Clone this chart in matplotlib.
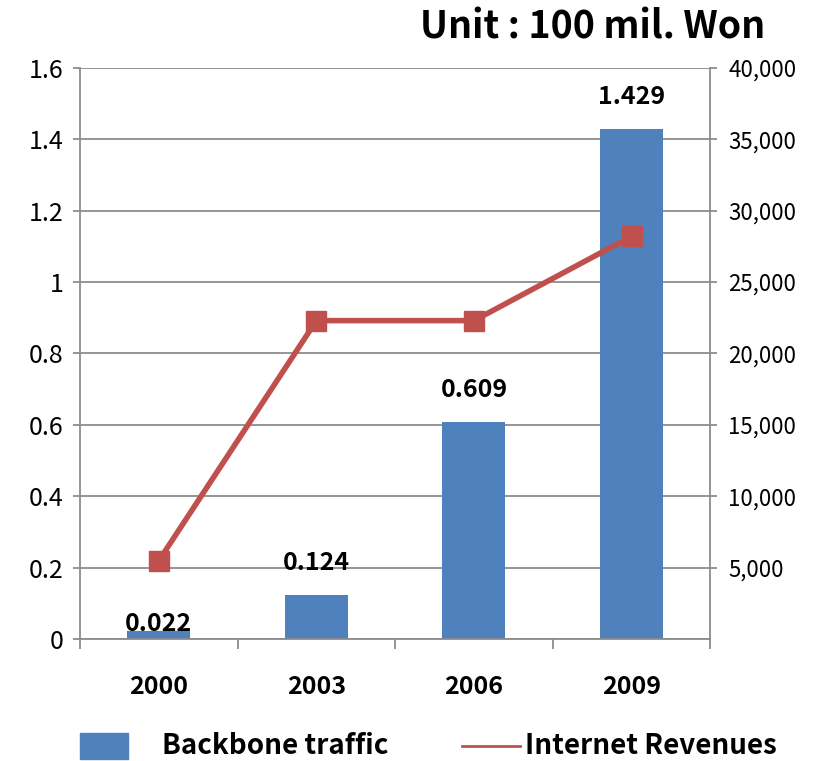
import numpy as np
import matplotlib.pyplot as plt
from matplotlib.ticker import FuncFormatter

plt.rcParams['font.family'] = ['Noto Sans CJK KR', 'DejaVu Sans']

years = ['2000', '2003', '2006', '2009']
traffic = [0.022, 0.124, 0.609, 1.429]
revenues = [5500, 22300, 22300, 28200]
left_ticks = [0, 0.2, 0.4, 0.6, 0.8, 1.0, 1.2, 1.4, 1.6]
right_ticks = [5000, 10000, 15000, 20000, 25000, 30000, 35000, 40000]

bar_color = '#4F81BD'
line_color = '#C0504D'
grid_color = '#8C8C8C'

fig = plt.figure(figsize=(8.25, 7.61), dpi=100)
ax = fig.add_axes([0.097, 0.160, 0.764, 0.751])
x = np.arange(len(years))

ax.bar(x, traffic, width=0.4, color=bar_color, zorder=2)
# first label sits on its tiny bar, the others float above
label_dy = [-0.012, 0.055, 0.055, 0.055]
for xi, v, dy in zip(x, traffic, label_dy):
    ax.text(xi, v + dy, f'{v:.3f}', ha='center', va='bottom',
            fontsize=18, fontweight='bold', zorder=5)

ax.set_xlim(-0.5, len(years) - 0.5)
ax.set_ylim(0, 1.6)
ax.set_yticks(left_ticks)
ax.yaxis.set_major_formatter(FuncFormatter(lambda v, p: f'{v:g}'))
ax.grid(axis='y', color=grid_color, linewidth=1.3, zorder=0)
ax.set_xticks(x)
ax.set_xticklabels(years, fontsize=18, fontweight='bold')
ax.set_xticks(np.arange(len(years) + 1) - 0.5, minor=True)
ax.tick_params(axis='x', which='major', length=0, pad=26)
ax.tick_params(axis='x', which='minor', length=7, color=grid_color, width=1.3)
ax.tick_params(axis='y', labelsize=18, length=5, color=grid_color, width=1.3, pad=7)
for s in ['left', 'right', 'bottom']:
    ax.spines[s].set_color(grid_color)
    ax.spines[s].set_linewidth(1.3)
ax.spines['top'].set_visible(False)

ax2 = ax.twinx()
ax2.plot(x, revenues, color=line_color, linewidth=4, marker='s', markersize=15,
         zorder=4, solid_capstyle='butt')
ax2.set_ylim(0, 40000)
ax2.set_yticks(right_ticks)
ax2.yaxis.set_major_formatter(FuncFormatter(lambda v, p: f'{int(v):,}'))
ax2.tick_params(axis='y', labelsize=16, length=5, color=grid_color, width=1.3, pad=8)
for s in ax2.spines.values():
    s.set_visible(False)

fig.text(0.927, 0.965, 'Unit : 100 mil. Won', ha='right', va='center',
         fontsize=27, fontweight='bold')

# legend
fig.patches.append(plt.Rectangle((0.097, 0.003), 0.058, 0.034, transform=fig.transFigure,
                                 color=bar_color, figure=fig))
fig.text(0.196, 0.020, 'Backbone traffic', ha='left', va='center',
         fontsize=20, fontweight='bold')
fig.lines.append(plt.Line2D([0.560, 0.630], [0.020, 0.020], transform=fig.transFigure,
                            color=line_color, linewidth=2, figure=fig))
fig.text(0.636, 0.020, 'Internet Revenues', ha='left', va='center',
         fontsize=20, fontweight='bold')

fig.savefig('out.png', dpi=100)
